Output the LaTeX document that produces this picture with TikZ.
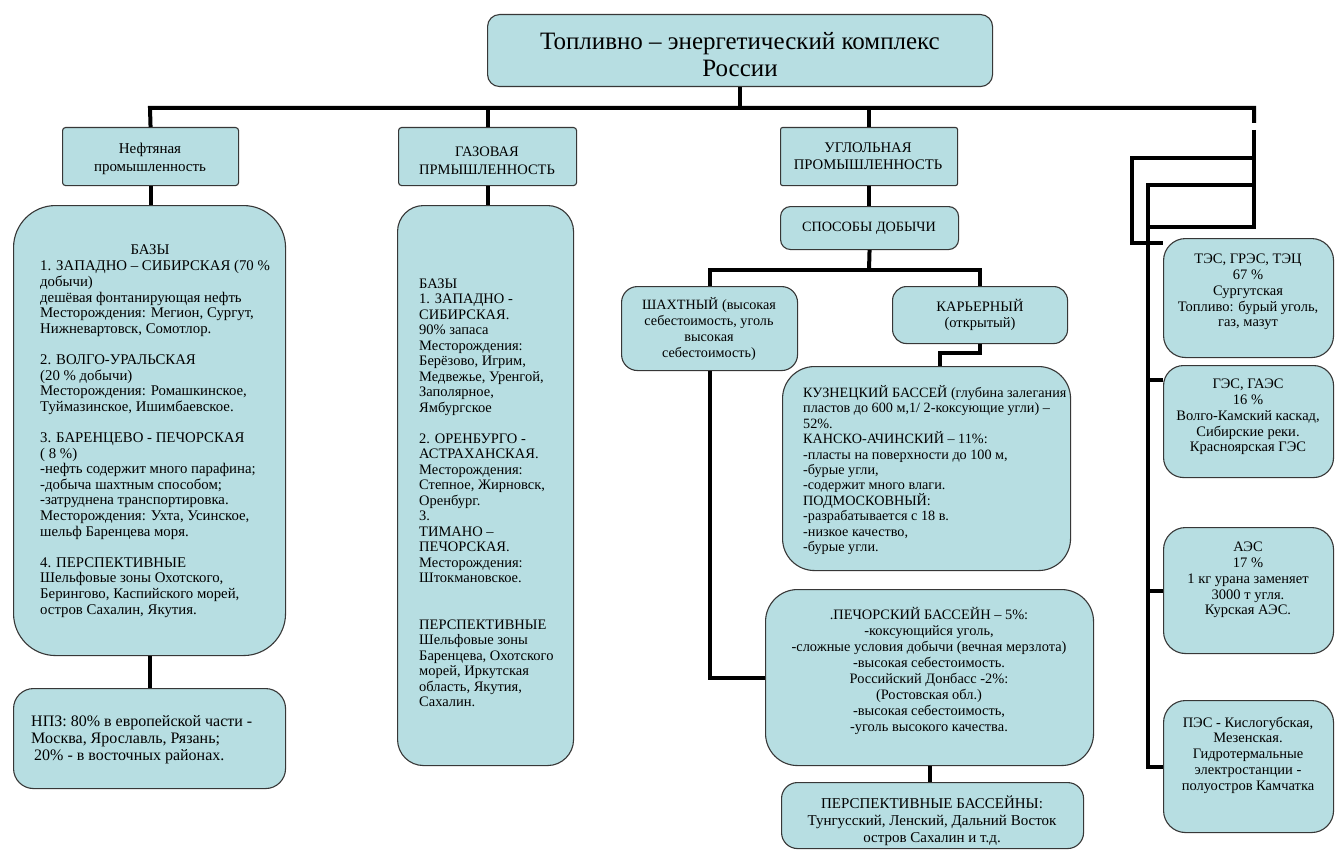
\documentclass[tikz,border=0pt]{standalone}
\usepackage{fontspec}
\setmainfont{Liberation Serif}
\usetikzlibrary{calc}
\definecolor{boxfill}{RGB}{183,222,226}
\definecolor{boxline}{RGB}{55,55,55}
\begin{document}
\begin{tikzpicture}[x=1pt,y=-1pt,
  box/.style={draw=boxline, line width=1.1pt, fill=boxfill, inner sep=0pt, anchor=north west},
  conn/.style={line width=4pt, black, line join=miter},
  txt/.style={inner sep=0pt, align=center},
  ltxt/.style={inner sep=0pt, align=left, anchor=west},
]
\fill[white] (0,0) rectangle (1335,856);
\useasboundingbox (0,0) rectangle (1335,856);

% ---------- boxes ----------
\node[box, rounded corners=12pt, minimum width=505pt, minimum height=72pt] (title) at (487,14) {};
\node[box, rounded corners=3pt, minimum width=176pt, minimum height=58pt] (oilh) at (62,127) {};
\node[box, rounded corners=3pt, minimum width=178pt, minimum height=58pt] (gash) at (398,127) {};
\node[box, rounded corners=2pt, minimum width=177pt, minimum height=58pt] (coalh) at (780,127) {};
\node[box, rounded corners=10pt, minimum width=178pt, minimum height=43pt] (spos) at (780,206) {};
\node[box, rounded corners=16pt, minimum width=176pt, minimum height=84pt] (shakh) at (621,286) {};
\node[box, rounded corners=14pt, minimum width=175pt, minimum height=57pt] (karer) at (892,286) {};
\node[box, rounded corners=32pt, minimum width=288pt, minimum height=204pt] (kuz) at (782,366) {};
\node[box, rounded corners=32pt, minimum width=328pt, minimum height=176pt] (pech) at (765,589) {};
\node[box, rounded corners=16pt, minimum width=302pt, minimum height=66pt] (persp) at (781,782) {};
\node[box, rounded corners=42pt, minimum width=272pt, minimum height=450pt] (oilb) at (13,205) {};
\node[box, rounded corners=20pt, minimum width=272pt, minimum height=100pt] (npz) at (13,688) {};
\node[box, rounded corners=26pt, minimum width=176pt, minimum height=560pt] (gasb) at (397,205) {};
\node[box, rounded corners=22pt, minimum width=170pt, minimum height=119pt] (tes) at (1163,238) {};
\node[box, rounded corners=20pt, minimum width=170pt, minimum height=112pt] (ges) at (1163,365) {};
\node[box, rounded corners=22pt, minimum width=170pt, minimum height=126pt] (aes) at (1163,527) {};
\node[box, rounded corners=22pt, minimum width=170pt, minimum height=132pt] (pes) at (1163,700) {};

% ---------- texts ----------
\node[txt, font=\fontsize{25pt}{27pt}\selectfont] (title-t) at (740,55) {Топливно – энергетический комплекс\\России};
\node[txt, font=\fontsize{15pt}{18pt}\selectfont] (oilh-t) at (150,159) {Нефтяная\\промышленность};
\node[txt, font=\fontsize{14.5pt}{18pt}\selectfont] (gash-t) at (487,161) {ГАЗОВАЯ\\ПРМЫШЛЕННОСТЬ};
\node[txt, font=\fontsize{14.7pt}{17pt}\selectfont] (coalh-t) at (868,156) {УГЛОЛЬНАЯ\\ПРОМЫШЛЕННОСТЬ};
\node[txt, font=\fontsize{14.2pt}{16pt}\selectfont] (spos-t) at (869,228) {СПОСОБЫ ДОБЫЧИ};
\node[txt, font=\fontsize{14.2pt}{16pt}\selectfont] (shakh-t) at (709,329) {ШАХТНЫЙ (высокая\\себестоимость, уголь\\высокая\\себестоимость)};
\node[txt, font=\fontsize{14.5pt}{16pt}\selectfont] (karer-t) at (980,315) {КАРЬЕРНЫЙ\\(открытый)};
\node[ltxt, font=\fontsize{14.2pt}{15.4pt}\selectfont] (kuz-t) at (803,470) {КУЗНЕЦКИЙ БАССЕЙ (глубина залегания\\пластов до 600 м,1/ 2-коксующие угли) –\\52\%.\\КАНСКО-АЧИНСКИЙ – 11\%:\\-пласты на поверхности до 100 м,\\-бурые угли,\\-содержит много влаги.\\ПОДМОСКОВНЫЙ:\\-разрабатывается с 18 в.\\-низкое качество,\\-бурые угли.};
\node[txt, font=\fontsize{14.4pt}{15.9pt}\selectfont] (pech-t) at (929,671) {.ПЕЧОРСКИЙ БАССЕЙН – 5\%:\\-коксующийся уголь,\\-сложные условия добычи (вечная мерзлота)\\-высокая себестоимость.\\Российский Донбасс -2\%:\\(Ростовская обл.)\\-высокая себестоимость,\\-уголь высокого качества.};
\node[txt, font=\fontsize{15pt}{17pt}\selectfont] (persp-t) at (932,821) {ПЕРСПЕКТИВНЫЕ БАССЕЙНЫ:\\Тунгусский, Ленский, Дальний Восток\\остров Сахалин и т.д.};
\node[txt, font=\fontsize{14.8pt}{15.6pt}\selectfont] (oil-bazy) at (150,250) {БАЗЫ};
\node[ltxt, font=\fontsize{14.8pt}{15.6pt}\selectfont] (oilb-t) at (40,439) {1. ЗАПАДНО – СИБИРСКАЯ (70 \%\\добычи)\\дешёвая фонтанирующая нефть\\Месторождения: Мегион, Сургут,\\Нижневартовск, Сомотлор.\\[15.6pt]2. ВОЛГО-УРАЛЬСКАЯ\\(20 \% добычи)\\Месторождения: Ромашкинское,\\Туймазинское, Ишимбаевское.\\[15.6pt]3. БАРЕНЦЕВО - ПЕЧОРСКАЯ\\( 8 \%)\\-нефть содержит много парафина;\\-добыча шахтным способом;\\-затруднена транспортировка.\\Месторождения: Ухта, Усинское,\\шельф Баренцева моря.\\[15.6pt]4. ПЕРСПЕКТИВНЫЕ\\Шельфовые зоны Охотского,\\Берингово, Каспийского морей,\\остров Сахалин, Якутия.};
\node[ltxt, font=\fontsize{16pt}{17pt}\selectfont] (npz-t) at (31,740) {НПЗ: 80\% в европейской части -\\Москва, Ярославль, Рязань;\\\hspace*{3pt}20\% - в восточных районах.};
\node[ltxt, font=\fontsize{14.5pt}{15.5pt}\selectfont] (gasb-t) at (419,493) {БАЗЫ\\1. ЗАПАДНО -\\СИБИРСКАЯ.\\90\% запаса\\Месторождения:\\Берёзово, Игрим,\\Медвежье, Уренгой,\\Заполярное,\\Ямбургское\\[15.5pt]2. ОРЕНБУРГО -\\АСТРАХАНСКАЯ.\\Месторождения:\\Степное, Жирновск,\\Оренбург.\\3.\\ТИМАНО –\\ПЕЧОРСКАЯ.\\Месторождения:\\Штокмановское.\\[31pt]ПЕРСПЕКТИВНЫЕ\\Шельфовые зоны\\Баренцева, Охотского\\морей, Иркутская\\область, Якутия,\\Сахалин.};
\node[txt, font=\fontsize{14.5pt}{15.8pt}\selectfont] (tes-t) at (1248,292) {ТЭС, ГРЭС, ТЭЦ\\67 \%\\Сургутская\\Топливо: бурый уголь,\\газ, мазут};
\node[txt, font=\fontsize{14.5pt}{15.8pt}\selectfont] (ges-t) at (1248,417) {ГЭС, ГАЭС\\16 \%\\Волго-Камский каскад,\\Сибирские реки.\\Красноярская ГЭС};
\node[txt, font=\fontsize{14.5pt}{15.8pt}\selectfont] (aes-t) at (1248,580) {АЭС\\17 \%\\1 кг урана заменяет\\3000 т угля.\\Курская АЭС.};
\node[txt, font=\fontsize{14.5pt}{15.8pt}\selectfont] (pes-t) at (1248,755) {ПЭС - Кислогубская,\\Мезенская.\\Гидротермальные\\электростанции -\\полуостров Камчатка};

% ---------- connectors ----------
\coordinate (bus) at (150,108);
\coordinate (busr) at (1254,108);
\coordinate (gapa) at (1254,123);
\coordinate (gapb) at (1254,130);
\coordinate (cb) at (869,270);
\coordinate (kk) at (940,353);
\coordinate (ra) at (1254,158);
\coordinate (rb) at (1254,185);
\coordinate (rc) at (1254,227);
\coordinate (la) at (1132,243);
\coordinate (tesin) at (1163,243);
\coordinate (vtop) at (1148,185);
\coordinate (vmid) at (1148,227);
\coordinate (gesin) at (1163,380);

\draw[conn] (title.south) -- (title.south |- bus);
\draw[conn] (oilh.north) -- (bus) -- (busr) -- (gapa);
\draw[conn] (gash.north) -- (gash.north |- bus);
\draw[conn] (coalh.north) -- (coalh.north |- bus);
\draw[conn] (oilh.south) -- (oilh.south |- oilb.north);
\draw[conn] (oilb.south) -- (oilb.south |- npz.north);
\draw[conn] (gash.south) -- (gash.south |- gasb.north);
\draw[conn] (coalh.south) -- (coalh.south |- spos.north);
\draw[conn] (spos.south) -- (cb);
\draw[conn] (shakh.north) -- (shakh.north |- cb) -- (karer.north |- cb) -- (karer.north);
\draw[conn] (karer.south) -- (karer.south |- kk) -- (kk) -- (kk |- kuz.north);
\draw[conn] (shakh.south) |- (pech.west);
\draw[conn] (pech.south) -- (pech.south |- persp.north);
% right side
\draw[conn] (gapb) -- (rc) -- (vmid);
\draw[conn] (ra) -| (la) -- (tesin);
\draw[conn] (rb) -- (vtop) -- (vtop |- pes.west) -- (pes.west);
\draw[conn] (vtop |- gesin) -- (gesin);
\draw[conn] (vtop |- aes.west) -- (aes.west);
\end{tikzpicture}
\end{document}
